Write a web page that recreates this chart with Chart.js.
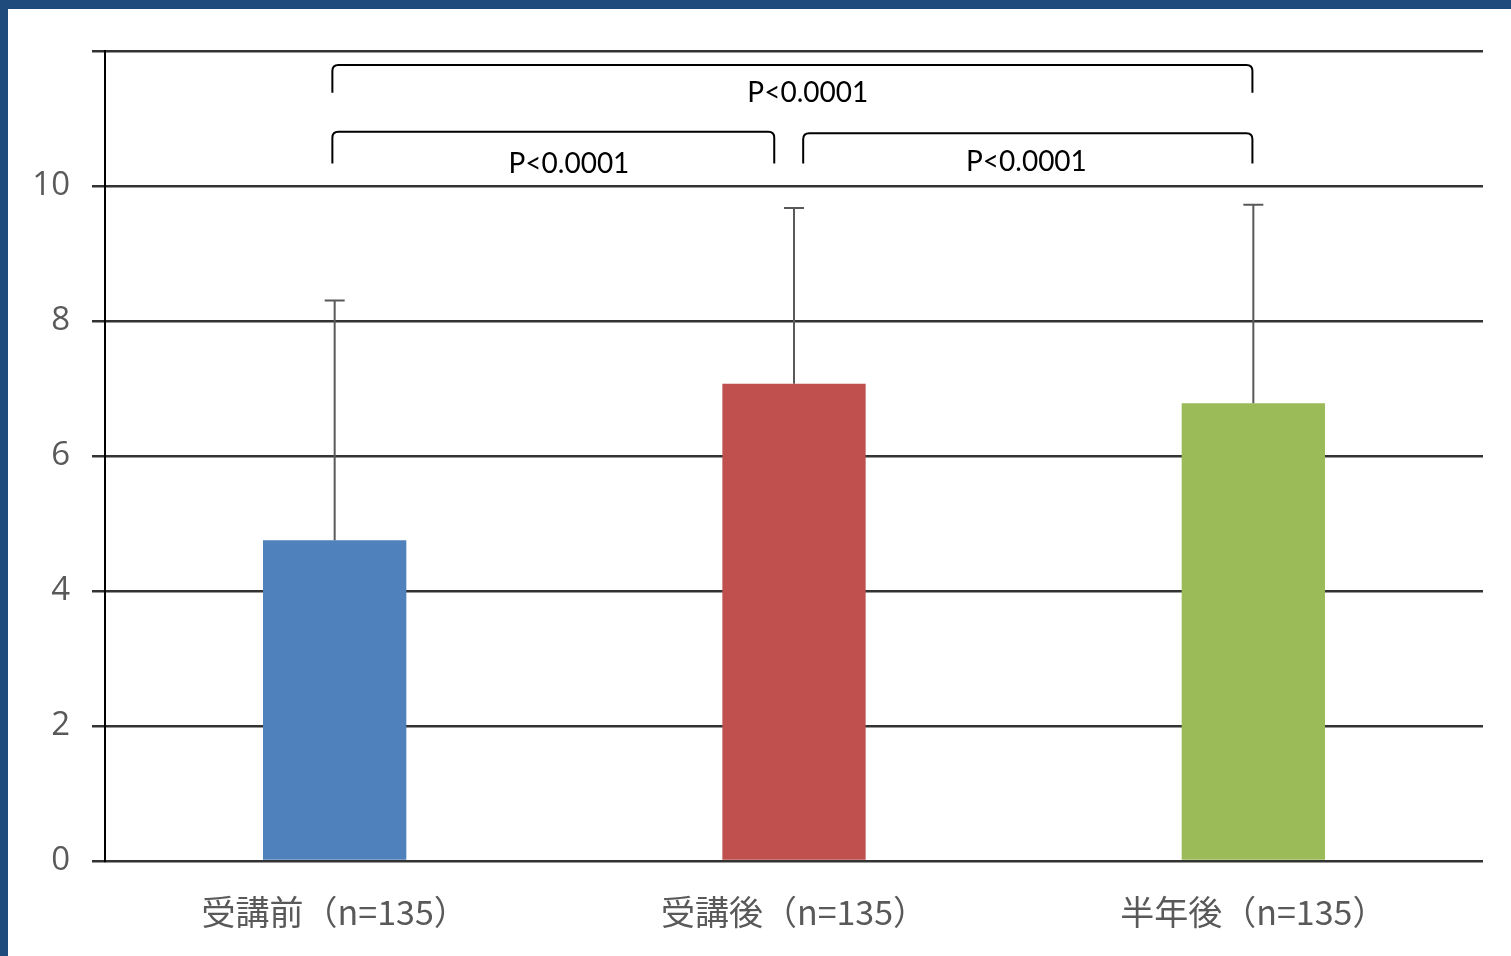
<!DOCTYPE html>
<html>
<head>
<meta charset="utf-8">
<script src="https://cdn.jsdelivr.net/npm/chart.js@4"></script>
<style>
  html, body { margin: 0; padding: 0; background: #fff; }
  #wrap {
    position: absolute; left: 0; top: 0;
    width: 1503px; height: 947px;
    border-left: 8px solid #1f4a7c;
    border-top: 9px solid #1f4a7c;
    background: #fff;
  }
</style>
</head>
<body>
<div id="wrap"><canvas id="scoreChart"></canvas></div>
<script>
// data
const categories = ['受講前（n=135）', '受講後（n=135）', '半年後（n=135）'];
const means = [4.75, 7.07, 6.78];
const sds = [3.55, 2.60, 2.94];
const barColors = ['#4f81bd', '#c0504d', '#9bbb59'];
const yTicks = [0, 2, 4, 6, 8, 10, 12];

// significance brackets: from/to in category units, top/bottom in y units
const brackets = [
  { from: -0.005, to: 1.998, top: 11.79, bottom: 11.38, label: 'P<0.0001', lx: 1.03, ly: 11.38 },
  { from: -0.005, to: 0.957, top: 10.80, bottom: 10.33, label: 'P<0.0001', lx: 0.51, ly: 10.33 },
  { from: 1.020, to: 1.998, top: 10.78, bottom: 10.33, label: 'P<0.0001', lx: 1.506, ly: 10.36 }
];

// error bars (upper only) + brackets
const overlayPlugin = {
  id: 'overlay',
  afterDatasetsDraw(chart) {
    const ctx = chart.ctx;
    const x = chart.scales.x, y = chart.scales.y;
    const step = x.getPixelForValue(1) - x.getPixelForValue(0);
    const catX = v => x.getPixelForValue(0) + v * step;
    ctx.save();
    ctx.strokeStyle = '#595959';
    ctx.lineWidth = 2;
    means.forEach((m, i) => {
      const px = x.getPixelForValue(i);
      const top = y.getPixelForValue(m + sds[i]);
      ctx.beginPath();
      ctx.moveTo(px, y.getPixelForValue(m));
      ctx.lineTo(px, top);
      ctx.moveTo(px - 10, top);
      ctx.lineTo(px + 10, top);
      ctx.stroke();
    });

    ctx.strokeStyle = '#000';
    ctx.lineWidth = 2;
    const r = 6;
    brackets.forEach(b => {
      const x1 = catX(b.from), x2 = catX(b.to);
      const yt = y.getPixelForValue(b.top), yb = y.getPixelForValue(b.bottom);
      ctx.beginPath();
      ctx.moveTo(x1, yb);
      ctx.lineTo(x1, yt + r);
      ctx.quadraticCurveTo(x1, yt, x1 + r, yt);
      ctx.lineTo(x2 - r, yt);
      ctx.quadraticCurveTo(x2, yt, x2, yt + r);
      ctx.lineTo(x2, yb);
      ctx.stroke();

      ctx.fillStyle = '#000';
      ctx.font = '28px Lato, "Open Sans", sans-serif';
      ctx.textAlign = 'center';
      ctx.textBaseline = 'middle';
      ctx.fillText(b.label, catX(b.lx), y.getPixelForValue(b.ly));
    });
    ctx.restore();
  }
};

const scoreCtx = document.getElementById('scoreChart').getContext('2d');
const scoreChart = new Chart(scoreCtx, {
  type: 'bar',
  data: {
    labels: categories,
    datasets: [{
      data: means,
      backgroundColor: barColors,
      borderWidth: 0,
      categoryPercentage: 1,
      barPercentage: 0.312
    }]
  },
  options: {
    responsive: true,
    maintainAspectRatio: false,
    animation: false,
    layout: { padding: { left: 0, top: 39, right: 28, bottom: 0 } },
    plugins: {
      legend: { display: false },
      tooltip: { enabled: false }
    },
    scales: {
      x: {
        grid: { display: false, drawTicks: false },
        border: { display: false },
        ticks: {
          color: '#595959',
          padding: 31,
          font: { family: '"Noto Sans CJK JP", sans-serif', size: 34 }
        },
        afterFit: s => { s.height = 95; }
      },
      y: {
        min: 0,
        max: 12,
        afterBuildTicks: s => { s.ticks = yTicks.map(v => ({ value: v })); },
        ticks: {
          color: '#595959',
          padding: 22,
          font: { family: '"Open Sans", sans-serif', size: 33 },
          callback: v => (v === 12 ? '' : v)
        },
        grid: { color: '#333', lineWidth: 2.5, tickLength: 13 },
        border: { color: '#000', width: 2 },
        afterFit: s => { s.width = 97; }
      }
    }
  },
  plugins: [overlayPlugin]
});
</script>
</body>
</html>
